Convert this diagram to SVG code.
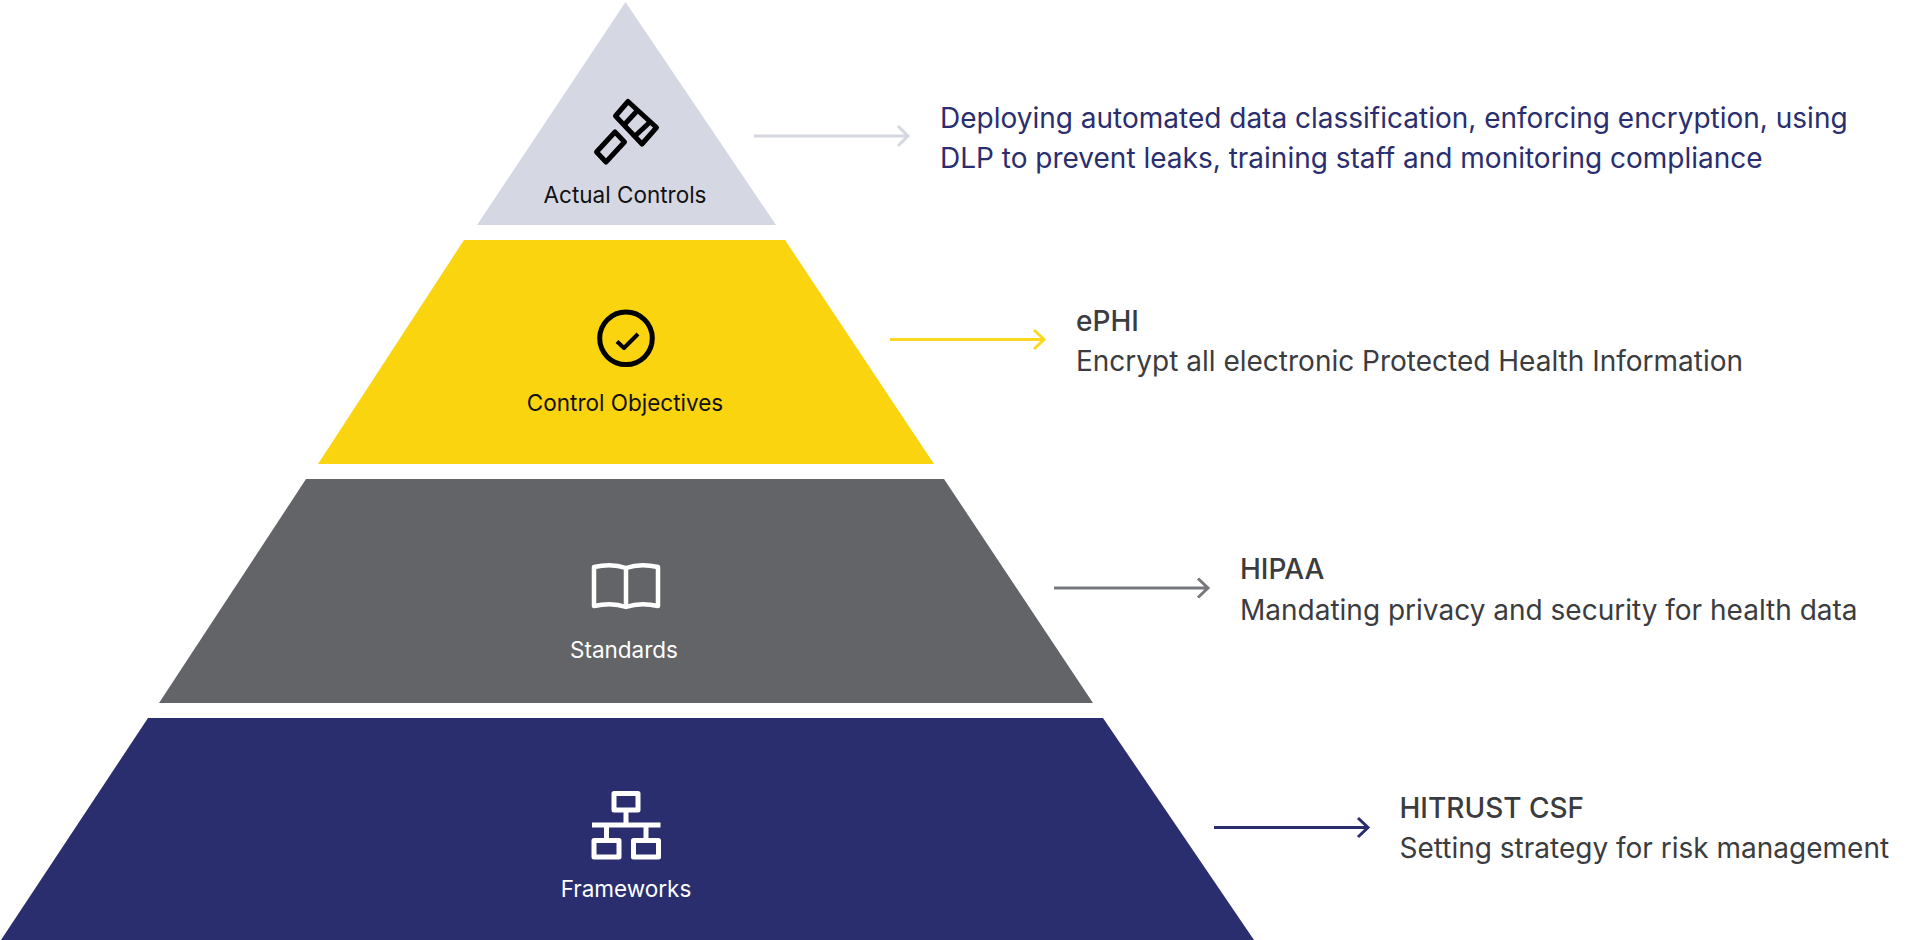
<svg xmlns="http://www.w3.org/2000/svg" width="1920" height="940" viewBox="0 0 1920 940">
<style>
text{font-family:Inter,"Liberation Sans",sans-serif}
.lab{font-size:22.5px;text-anchor:middle}
.desc{font-size:28px;fill:#3b3c40}
.head{font-size:28px;font-weight:500;fill:#3b3c40}
.navy{font-size:28px;fill:#2a2e6e}
.ic{fill:none;stroke-linejoin:round}
.conn{fill:none;stroke-width:3}
</style>
<rect width="1920" height="940" fill="#fff"/>
<g id="connectors">
<path class="conn" stroke="#d5d8e3" d="M754 136H908M898 126l10 10l-10 10"/>
<path class="conn" stroke="#fbd722" d="M890 339.500H1044M1034 330l10 9.500l-10 9.500"/>
<path class="conn" stroke="#77787b" d="M1054 588H1208M1198 578.500l10 9.500l-10 9.500"/>
<path class="conn" stroke="#2a2e6e" d="M1214 827.500H1368M1358 818l10 9.500l-10 9.500"/>
</g>
<g id="actual-controls">
<polygon points="625.500,2 776,225 477,225" fill="#d5d8e3"/>
<g class="ic" stroke="#000" stroke-width="5">
<polygon points="628,101.500 615.500,116 642,144 656.500,127.500"/>
<path d="M637 111L623.500 125.500M649.500 122.500L634 137"/>
<polygon points="615,132 596.500,152 606,162 624.500,142"/>
</g>
<text class="lab" x="625" y="203" fill="#111">Actual Controls</text>
</g>
<g id="control-objectives">
<polygon points="464,240 785,240 934,464 318,464" fill="#fad40f"/>
<circle cx="626" cy="338.300" r="26.300" fill="none" stroke="#000" stroke-width="5"/>
<path class="ic" stroke="#000" stroke-width="4" d="M617 341.500L624 348L638 334"/>
<text class="lab" x="625" y="411" fill="#111">Control Objectives</text>
</g>
<g id="standards">
<polygon points="306,479 944,479 1093,703 159,703" fill="#636467"/>
<path class="ic" stroke="#fff" stroke-width="4.500" d="M594 567Q612 563 626 568Q640 563 658 567V606Q640 602 626 607Q612 602 594 606ZM626 568V607"/>
<text class="lab" x="624" y="658" fill="#fff">Standards</text>
</g>
<g id="frameworks">
<polygon points="148,718 1103,718 1254,940 1,940" fill="#2a2e6e"/>
<g class="ic" stroke="#fff" stroke-width="5">
<rect x="614" y="793.500" width="24" height="16.500"/>
<rect x="594" y="840.500" width="25" height="16.500"/>
<rect x="633.500" y="840.500" width="25" height="16.500"/>
<path d="M592 825H660.500M626 810V825M606.500 825V840.500M646 825V840.500"/>
</g>
<text class="lab" x="626" y="897" fill="#fff">Frameworks</text>
</g>
<g id="text-actual">
<text class="navy" x="940" y="128">Deploying automated data classification, enforcing encryption, using</text>
<text class="navy" x="940" y="168">DLP to prevent leaks, training staff and monitoring compliance</text>
</g>
<g id="text-objectives">
<text class="head" x="1076" y="331">ePHI</text>
<text class="desc" x="1076" y="371">Encrypt all electronic Protected Health Information</text>
</g>
<g id="text-standards">
<text class="head" x="1240" y="579">HIPAA</text>
<text class="desc" x="1240" y="619.500">Mandating privacy and security for health data</text>
</g>
<g id="text-frameworks">
<text class="head" x="1399.500" y="818">HITRUST CSF</text>
<text class="desc" x="1399.500" y="858">Setting strategy for risk management</text>
</g>
</svg>
